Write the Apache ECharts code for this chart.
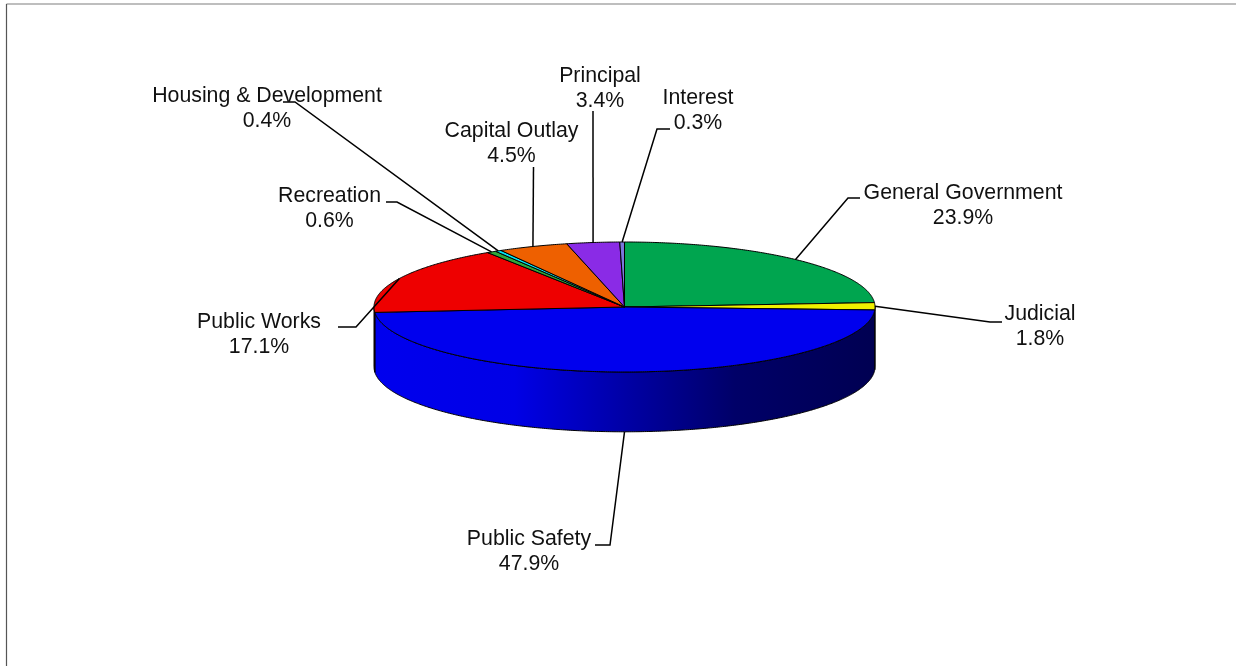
<!DOCTYPE html>
<html>
<head>
<meta charset="utf-8">
<title>Expenditures by function</title>
<style>
  html, body { margin: 0; padding: 0; background: #fff; }
  #chart { width: 1236px; height: 666px; }
</style>
<script src="https://cdn.jsdelivr.net/npm/echarts@6/dist/echarts.min.js"></script>
</head>
<body>
<div id="chart"></div>
<script>
// Share of spending per function, clockwise from twelve o'clock.
const categories = ['General Government', 'Judicial', 'Public Safety', 'Public Works',
  'Recreation', 'Housing & Development', 'Capital Outlay', 'Principal', 'Interest'];
const shares = [23.9, 1.8, 47.9, 17.1, 0.6, 0.4, 4.5, 3.4, 0.3];
const topColors = ['#00A54F', '#F0F000', '#0000EE', '#EE0000', '#2FA83A', '#00E6F5', '#EE6000', '#8A2BE6', '#7A78DC'];
const wallColors = ['#005228', '#7A7A00', null, '#500000', '#104010', '#006070', '#6E2C00', '#401470', '#38386A'];

// Label centre and the outer knee points of each leader line, in pixels.
const labelLayout = [
  { cx: 963, cy: 205.5, knee: [[860, 198], [848, 198]] },
  { cx: 1040, cy: 327, knee: [[1002, 322], [990, 322]] },
  { cx: 529, cy: 551.5, knee: [[595, 545], [610, 545]], anchorDeg: 90 },
  { cx: 259, cy: 334.5, knee: [[338, 327], [356, 327]] },
  { cx: 329.5, cy: 208.5, knee: [[386, 202], [397, 202]] },
  { cx: 267, cy: 108.5, knee: [[283, 102], [295, 102]] },
  { cx: 511.5, cy: 143.5, knee: [[533.5, 167]] },
  { cx: 600, cy: 88.5, knee: [[593, 111]] },
  { cx: 698, cy: 111, knee: [[670, 129], [657, 129]] }
];

const FONT = '"Liberation Sans", Arial, sans-serif';
const DEPTH = 0.92;   // height of the disc side, in ellipse radii
const total = shares.reduce((a, b) => a + b, 0);

// Slice angles in degrees; 0 points right and angles grow clockwise on screen.
const startDeg = [];
let running = -90;
shares.forEach(v => { startDeg.push(running); running += v / total * 360; });
const endDeg = i => startDeg[i] + shares[i] / total * 360;

const onRim = (deg, drop) => {
  const r = deg * Math.PI / 180;
  return [Math.cos(r), -Math.sin(r) - (drop || 0)];
};
const arcPoints = (a, b, drop) => {
  const pts = [];
  const n = Math.max(2, Math.ceil(Math.abs(b - a) / 0.5));
  for (let k = 0; k <= n; k++) pts.push(onRim(a + (b - a) * k / n, drop));
  return pts;
};

const wallGradient = new echarts.graphic.LinearGradient(0, 0, 1, 0, [
  { offset: 0, color: '#0000EE' },
  { offset: 0.28, color: '#0000E6' },
  { offset: 0.5, color: '#0000A6' },
  { offset: 0.72, color: '#000068' },
  { offset: 1, color: '#000052' }
]);

function renderWall(params, api) {
  const i = api.value(0);
  const a = Math.max(startDeg[i], 0), b = Math.min(endDeg(i), 180);
  if (b <= a) return null;
  const pts = arcPoints(a, b, 0).concat(arcPoints(b, a, DEPTH)).map(p => api.coord(p));
  return {
    type: 'polygon',
    shape: { points: pts },
    style: { fill: wallColors[i] || wallGradient, stroke: '#000', lineWidth: 1 }
  };
}

function renderTop(params, api) {
  const i = api.value(0);
  const pts = [[0, 0]].concat(arcPoints(startDeg[i], endDeg(i), 0)).map(p => api.coord(p));
  return {
    type: 'polygon',
    shape: { points: pts },
    style: { fill: topColors[i], stroke: '#000', lineWidth: 1 }
  };
}

function renderLabel(params, api) {
  const i = api.value(0);
  const layout = labelLayout[i];
  const mid = layout.anchorDeg !== undefined ? layout.anchorDeg : (startDeg[i] + endDeg(i)) / 2;
  const drop = mid > 0 && mid < 180 ? DEPTH : 0;
  const anchor = api.coord(onRim(mid, drop));
  return {
    type: 'group',
    children: [
      {
        type: 'polyline',
        shape: { points: layout.knee.concat([anchor]) },
        style: { fill: null, stroke: '#000', lineWidth: 1.5 }
      },
      {
        type: 'text',
        style: {
          text: categories[i] + '\n' + shares[i].toFixed(1) + '%',
          x: layout.cx, y: layout.cy,
          align: 'center', verticalAlign: 'middle',
          fontFamily: FONT, fontSize: 21.3, lineHeight: 24.8, fill: '#111'
        }
      }
    ]
  };
}

const rows = shares.map((v, i) => [i, v]);
const chart = echarts.init(document.getElementById('chart'), null, { renderer: 'canvas' });
chart.setOption({
  animation: false,
  backgroundColor: '#fff',
  // One unit on each axis is one ellipse radius of the disc's top face.
  grid: { left: 374, top: 242, width: 501, height: 195, containLabel: false },
  xAxis: { type: 'value', min: -1, max: 1, show: false },
  yAxis: { type: 'value', min: -2, max: 1, show: false },
  graphic: [
    { type: 'line', silent: true, shape: { x1: 6.5, y1: 4, x2: 1236, y2: 4 }, style: { stroke: '#A8A8A8', lineWidth: 1.5 } },
    { type: 'line', silent: true, shape: { x1: 6.5, y1: 4, x2: 6.5, y2: 666 }, style: { stroke: '#555', lineWidth: 1.2 } }
  ],
  series: [
    { type: 'custom', name: 'side', silent: true, clip: false, data: rows, renderItem: renderWall, z: 1 },
    { type: 'custom', name: 'top', silent: true, clip: false, data: rows, renderItem: renderTop, z: 2 },
    { type: 'custom', name: 'labels', silent: true, clip: false, data: rows, renderItem: renderLabel, z: 3 }
  ]
});
</script>
</body>
</html>
